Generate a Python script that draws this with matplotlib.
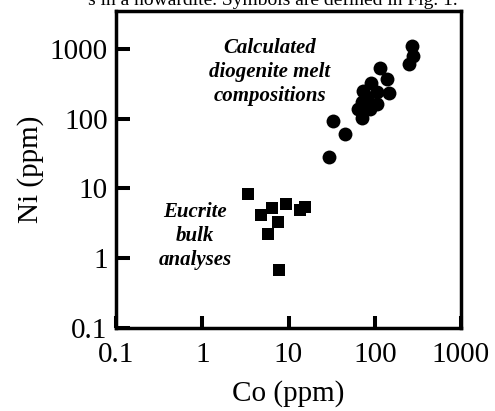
import matplotlib
matplotlib.use("Agg")
import matplotlib.pyplot as plt

# Eucrite bulk analyses (squares)
eucrite_co = [3.4, 4.8, 6.4, 9.4, 13.6, 15.5, 7.6, 5.8, 7.8]
eucrite_ni = [8.4, 4.1, 5.3, 6.0, 4.85, 5.5, 3.3, 2.2, 0.67]

# Calculated diogenite melt compositions (circles)
diog_co = [29.7, 33, 45.2, 71.7, 70.6, 73.6, 90.5, 105, 105, 88, 115, 140, 145,
           268, 280, 252, 81, 64]
diog_ni = [28, 93.6, 60.4, 104, 171, 251, 330, 238, 162, 138, 541, 377, 230,
           1104, 794, 617, 206, 139]

tick_vals = [0.1, 1, 10, 100, 1000]
tick_labels = ["0.1", "1", "10", "100", "1000"]

serif = ["Liberation Serif", "DejaVu Serif"]

fig = plt.figure(figsize=(4.95, 4.11), dpi=100)
ax = fig.add_axes([116 / 495, 83 / 411, 345 / 495, 317 / 411])

ax.scatter(diog_co, diog_ni, s=100, marker="o", color="black", linewidths=0, zorder=3)
ax.scatter(eucrite_co, eucrite_ni, s=64, marker="s", color="black", linewidths=0, zorder=3)

ax.set_xscale("log")
ax.set_yscale("log")
ax.set_xlim(0.1, 1000)
ax.set_ylim(0.1, 3500)

ax.set_xticks(tick_vals)
ax.set_xticklabels(tick_labels)
ax.set_yticks(tick_vals)
ax.set_yticklabels(tick_labels)
ax.minorticks_off()

ax.tick_params(axis="x", direction="in", length=8.5, width=2.9, pad=10,
               labelsize=21)
ax.tick_params(axis="y", direction="in", length=10, width=2.9, pad=6,
               labelsize=21)
for lab in ax.get_xticklabels() + ax.get_yticklabels():
    lab.set_family(serif)

for sp in ax.spines.values():
    sp.set_linewidth(2.5)

ax.set_xlabel("Co (ppm)", fontsize=21, family=serif, labelpad=9)
ax.set_ylabel("Ni (ppm)", fontsize=21, family=serif, labelpad=4)

fig.text(270 / 495, 1 - 72 / 411, "Calculated\ndiogenite melt\ncompositions",
         ha="center", va="center", multialignment="center",
         fontsize=15, fontweight="bold", fontstyle="italic", family=serif,
         linespacing=1.25)
fig.text(195 / 495, 1 - 236 / 411, "Eucrite\nbulk\nanalyses",
         ha="center", va="center", multialignment="center",
         fontsize=15, fontweight="bold", fontstyle="italic", family=serif,
         linespacing=1.25)

fig.text(88 / 495, 1 - 5 / 411, "s in a howardite. Symbols are defined in Fig. 1.",
         ha="left", va="baseline", fontsize=14, family=serif)

fig.savefig("out.png", dpi=100)
